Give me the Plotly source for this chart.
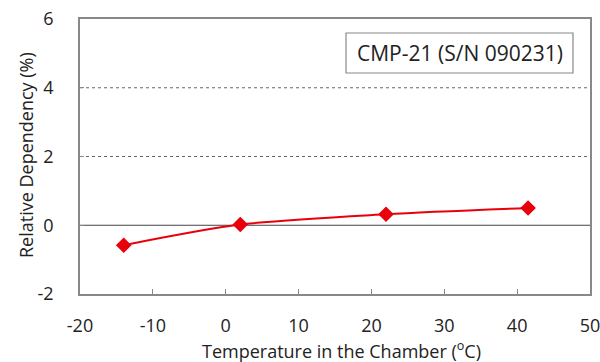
import plotly.graph_objects as go

temps = [-14, 2, 22, 41.5]
dependency = [-0.58, 0.02, 0.32, 0.50]
x_ticks = [-20, -10, 0, 10, 20, 30, 40, 50]
x_ticktext = ["-20", "-10", "0", "10", "20", "30", "40", "50"]
y_ticks = [-2, 0, 2, 4, 6]
y_ticktext = ["-2", "0", "2", "4", "6"]
label = "CMP-21 (S/N 090231)"
x_title = "Temperature in the Chamber (<sup>o</sup>C)"
y_title = "Relative Dependency (%)"

FONT = "Open Sans"
PW, PH = 510, 275  # plot area size in px

fig = go.Figure()
fig.add_trace(go.Scatter(
    x=temps, y=dependency, mode="lines+markers",
    line=dict(color="#e8000b", width=2, shape="spline", smoothing=0.8),
    marker=dict(symbol="diamond", size=12, color="#e8000b"),
    showlegend=False,
))

for yv in [2, 4]:
    fig.add_shape(type="line", xref="paper", yref="y", x0=0, x1=1, y0=yv, y1=yv,
                  line=dict(color="#666666", width=1, dash="dot"), layer="below")
fig.add_shape(type="line", xref="paper", yref="y", x0=0, x1=1, y0=0, y1=0,
              line=dict(color="#444444", width=1), layer="below")

# label box
fig.add_shape(type="rect", xref="paper", yref="paper",
              x0=266/PW, x1=493/PW, y0=(294-73)/PH, y1=(294-33)/PH,
              line=dict(color="#888888", width=1.2), fillcolor="white")
fig.add_annotation(xref="paper", yref="paper", x=(266+493)/2/PW, y=(294-53)/PH,
                   xanchor="center", yanchor="middle",
                   text=label, showarrow=False, font=dict(family=FONT, size=21, color="#222"))

# axis titles
fig.add_annotation(xref="paper", yref="paper", x=(341-80)/PW, y=(294-350)/PH,
                   xanchor="center", yanchor="middle", text=x_title, showarrow=False,
                   font=dict(family=FONT, size=18, color="#222"))
fig.add_annotation(xref="paper", yref="paper", x=(26-80)/PW, y=(294-155)/PH,
                   xanchor="center", yanchor="middle", text=y_title, showarrow=False,
                   textangle=-90, font=dict(family=FONT, size=18, color="#222"))

fig.update_layout(
    width=600, height=362, margin=dict(l=80, r=10, t=19, b=68),
    paper_bgcolor="white", plot_bgcolor="white",
    font=dict(family=FONT, size=18, color="#222"),
)
fig.update_xaxes(range=[-20, 50], tickvals=x_ticks, ticktext=x_ticktext,
                 showgrid=False, zeroline=False, automargin=False, ticklabeloverflow="allow",
                 showline=True, linecolor="#888888", linewidth=1.5, mirror=True,
                 ticks="inside", ticklen=5, tickcolor="#888888", ticklabelstandoff=15)
fig.update_yaxes(range=[-2, 6], tickvals=y_ticks, ticktext=y_ticktext,
                 showgrid=False, zeroline=False, automargin=False,
                 showline=True, linecolor="#888888", linewidth=1.5, mirror=True,
                 ticks="inside", ticklen=4, tickcolor="#888888", ticklabelstandoff=21)

fig.write_html("out.html")
